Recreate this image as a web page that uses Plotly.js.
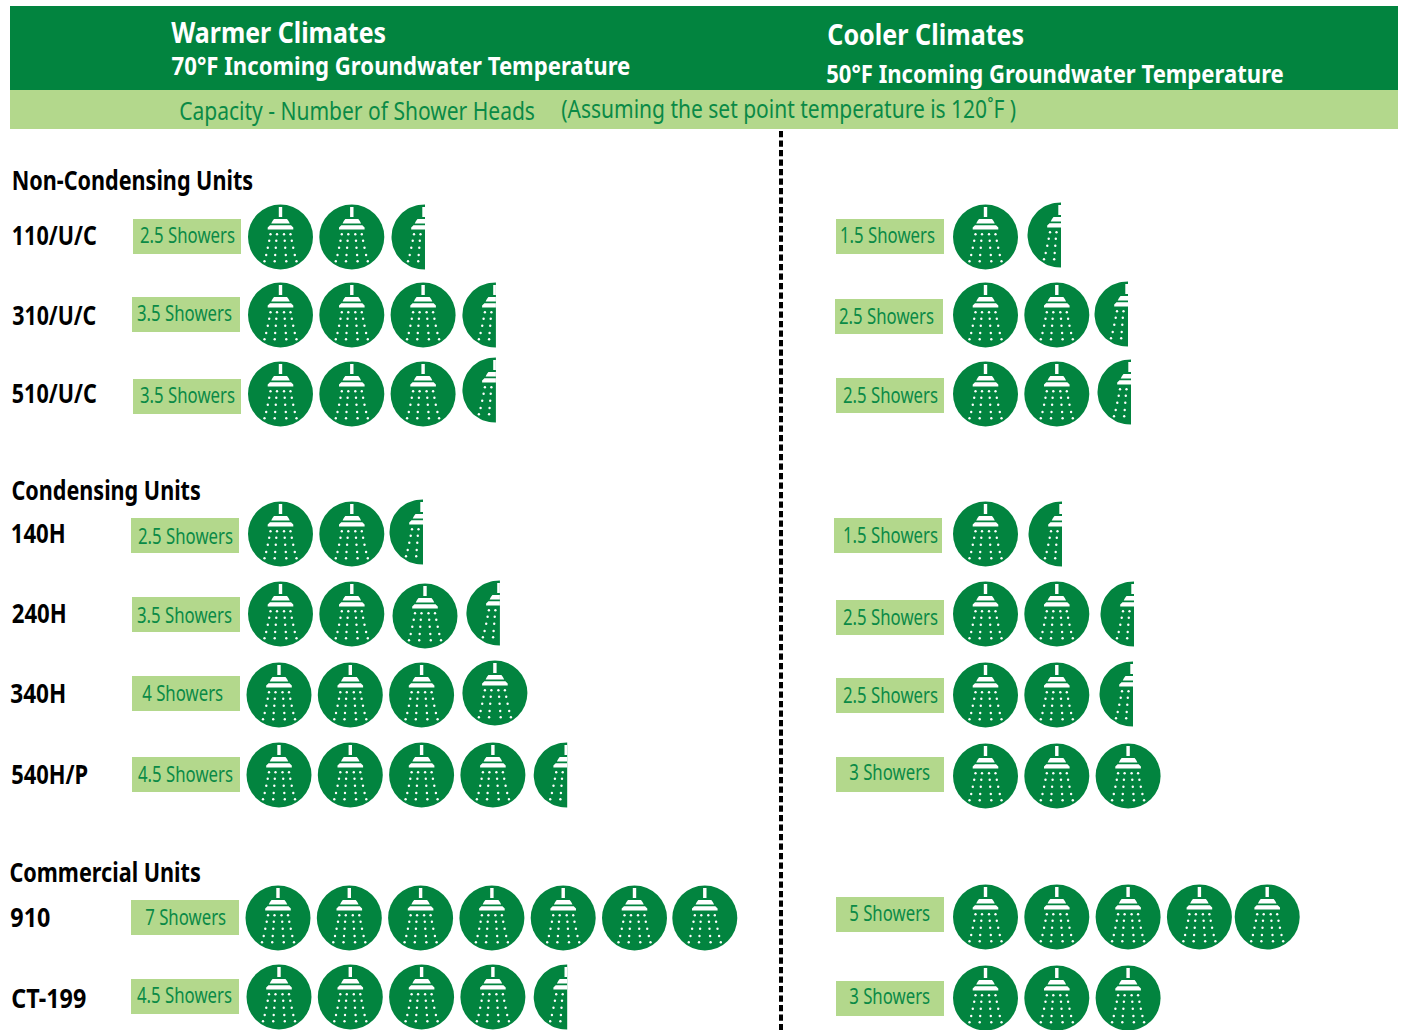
<!DOCTYPE html>
<html>
<head>
<meta charset="utf-8">
<script src="https://cdn.plot.ly/plotly-3.0.1.min.js"></script>
<style>html,body{margin:0;padding:0;background:#fff}#chart{width:1404px;height:1030px}</style>
</head>
<body>
<div id="chart"></div>
<script>
// Shower-head capacity per water heater model, for two groundwater temperatures.
const units = ["110/U/C","310/U/C","510/U/C","140H","240H","340H","540H/P","910","CT-199"];
const warmShowers = [2.5,3.5,3.5,2.5,3.5,4,4.5,7,4.5];
const coolShowers = [1.5,2.5,2.5,1.5,2.5,2.5,3,5,3];

const GREEN = "#02843f", LIGHT = "#b3d88c", CHIPTEXT = "#0a8a46";
const FONT = "'Noto Sans', 'Open Sans', sans-serif";
const PITCH = 71.3, R = 32.5, CUT = 1;

// Row placement for each column
const warmLayout = {
  start: [280.5,280.5,280.5,280.5,280.5,279,279,278,279],
  y:     [237,315,394,534,614,695,775,918,997],
  nudge: {"0:2":[0.9,0],"1:3":[0.5,0],"2:3":[0.5,-4],"3:2":[-1.1,-2],"4:2":[1.9,2],"4:3":[4.5,-1],"5:3":[2,-2],"6:4":[2,0],"7:6":[-1,0],"8:4":[2,0]},
  chipX: [133,132,133,131,132,132,132,131,131],
  chipY: [219,297,379,518,597,676,757,900,979],
  textDX:[0,-2,0,0,-2,-4,-1,0,-1],
  textDY:[-1.5,-1.5,-1.5,0.5,0.5,-0.5,-0.5,-0.5,-1.5]
};
const coolLayout = {
  start: [985.5,985.5,985.5,985.5,985.5,985.5,985.5,985.5,985.5],
  y:     [237,315,394,534,614,695,776,917,998],
  nudge: {"0:1":[3.2,-2],"1:2":[-1.1,-1],"2:2":[1.9,-2],"3:1":[4.2,0],"4:2":[4.9,0],"5:2":[3.9,-1],"7:4":[-3.5,0]},
  chipX: [836,835,836,834,836,836,836,836,836],
  chipY: [219,299,378,518,600,678,757,897,981],
  textDX:[-3,-3,0,2,0,0,-1,-1,-1],
  textDY:[-1.5,-0.5,-0.5,-0.5,-0.5,-0.5,-2.5,-1.5,-2.5]
};

// Shower glyph outline relative to the disc centre
const glyphParts = [
  [[-1.7,-30],[1.7,-30],[1.7,-20],[-1.7,-20]],
  [[-6.5,-18],[6.5,-18],[8,-16],[9.3,-13.4],[-9.3,-13.4],[-8,-16]],
  [[-12.8,-7.6],[-12.8,-9.6],[-10.5,-11.8],[10.5,-11.8],[12.8,-9.6],[12.8,-7.6]]
];
const dropRows = [[-2.7,10,3.5],[3.7,11.3,4.2],[10.7,12.7,4.7],[18,14.3,5.3],[24.3,16,5.8]];

const discX=[],discY=[],halfX=[],halfY=[],glyphX=[],glyphY=[],dropX=[],dropY=[];

function addIcon(cx, cy, isHalf){
  if(isHalf){
    // Left half of the disc, cut just past the centre line
    for(let deg=-88; deg>=-272; deg-=4){
      const a=deg*Math.PI/180;
      halfX.push(Math.min(cx+R*Math.cos(a),cx+CUT));
      halfY.push(cy+R*Math.sin(a));
    }
    halfX.push(cx+CUT,null); halfY.push(cy+R,null);
  } else { discX.push(cx); discY.push(cy); }
  glyphParts.forEach(part=>{
    part.forEach(p=>{ glyphX.push(isHalf?Math.min(cx+p[0],cx+CUT):cx+p[0]); glyphY.push(cy+p[1]); });
    glyphX.push(null); glyphY.push(null);
  });
  dropRows.forEach(r=>{
    const cols = isHalf ? [-r[1],-r[2]] : [-r[1],-r[2],r[2],r[1]];
    cols.forEach(d=>{ dropX.push(cx+d); dropY.push(cy+r[0]); });
  });
}

function addColumn(values, lay){
  values.forEach((v,row)=>{
    const n=Math.ceil(v), frac=v%1!==0;
    for(let i=0;i<n;i++){
      const nudge=lay.nudge[row+":"+i]||[0,0];
      addIcon(lay.start[row]+i*PITCH+nudge[0], lay.y[row]+nudge[1], frac&&i===n-1);
    }
  });
}
addColumn(warmShowers,warmLayout);
addColumn(coolShowers,coolLayout);

const shapes=[
  {type:"rect",x0:10,x1:1398,y0:6,y1:90,fillcolor:GREEN,line:{width:0},layer:"below"},
  {type:"rect",x0:10,x1:1398,y0:90,y1:129,fillcolor:LIGHT,line:{width:0},layer:"below"},
  {type:"line",x0:781,x1:781,y0:131,y1:1030,line:{color:"#000",width:4,dash:"6.2px,3.3px"},layer:"below"}
];

// Labels: text, left edge, right edge, middle y, size, colour, bold
const labels=[];
function label(text,x0,x1,y,size,color,bold){ labels.push({text,x0,x1,y,size,color,bold}); }

label("Warmer Climates",171,386,31.5,28,"#fff",true);
label("70°F Incoming Groundwater Temperature",171,630,64.5,25,"#fff",true);
label("Cooler Climates",827,1024,33.5,28,"#fff",true);
label("50°F Incoming Groundwater Temperature",826,1284,73,25,"#fff",true);
label("Capacity - Number of Shower Heads",179,535,110,26,CHIPTEXT,false);
label("(Assuming the set point temperature is 120˚F )",561,1016,108,26,CHIPTEXT,false);
label("Non-Condensing Units",11.5,253,180,26,"#000",true);
label("Condensing Units",11.5,201,490,26,"#000",true);
label("Commercial Units",9.5,201,872,26,"#000",true);

const unitBounds=[[12,97,235],[12,96,314.5],[12,97,393],[11,66,532.5],[12,67,612.5],[10,66,692.5],[11,88,773.5],[10,50,916.5],[11,86,997.5]];
units.forEach((u,i)=>label(u,unitBounds[i][0],unitBounds[i][1],unitBounds[i][2],26,"#000",true));

function addChips(values,lay){
  values.forEach((v,row)=>{
    const x=lay.chipX[row], y=lay.chipY[row];
    shapes.push({type:"rect",x0:x,x1:x+108,y0:y,y1:y+35,fillcolor:LIGHT,line:{width:0},layer:"below"});
    const t=v+" Showers", w=(Number.isInteger(v)?81:95);
    const c=x+54+lay.textDX[row];
    label(t,c-w/2,c+w/2,y+17+lay.textDY[row],21,CHIPTEXT,false);
  });
}
addChips(warmShowers,warmLayout);
addChips(coolShowers,coolLayout);

const annotations=labels.map(l=>({
  text:l.text,xref:"x",yref:"y",x:(l.x0+l.x1)/2,y:l.y,xanchor:"center",yanchor:"middle",showarrow:false,
  font:{family:FONT,size:l.size,color:l.color,weight:l.bold?700:400}
}));

const polygon=(x,y,color)=>({x,y,type:"scatter",mode:"lines",line:{width:0},fill:"toself",fillcolor:color,hoverinfo:"skip",showlegend:false});
const dots=(x,y,size,color)=>({x,y,type:"scatter",mode:"markers",marker:{size,color,line:{width:0}},hoverinfo:"skip",showlegend:false});

const traces=[
  dots(discX,discY,2*R,GREEN),
  polygon(halfX,halfY,GREEN),
  polygon(glyphX,glyphY,"#fff"),
  dots(dropX,dropY,2.4,"#fff")
];

const layout={
  width:1404,height:1030,margin:{l:0,r:0,t:0,b:0},paper_bgcolor:"#fff",plot_bgcolor:"#fff",showlegend:false,
  xaxis:{range:[0,1404],visible:false,fixedrange:true},
  yaxis:{range:[1030,0],visible:false,fixedrange:true},
  shapes,annotations
};

Plotly.newPlot("chart",traces,layout,{displayModeBar:false,staticPlot:true}).then(gd=>{
  // The heading face is narrower than the installed fonts, so squeeze each label to its span
  gd.querySelectorAll(".annotation").forEach(a=>{
    const l=labels[+a.getAttribute("data-index")], t=a.querySelector("text");
    if(!l||!t) return;
    const k=(l.x1-l.x0)/t.getComputedTextLength(), cx=+t.getAttribute("x")||0;
    const prior=t.getAttribute("transform")||"";
    t.setAttribute("transform",prior+" translate("+cx+",0) scale("+k+",1) translate("+(-cx)+",0)");
  });
});
</script>
</body>
</html>
